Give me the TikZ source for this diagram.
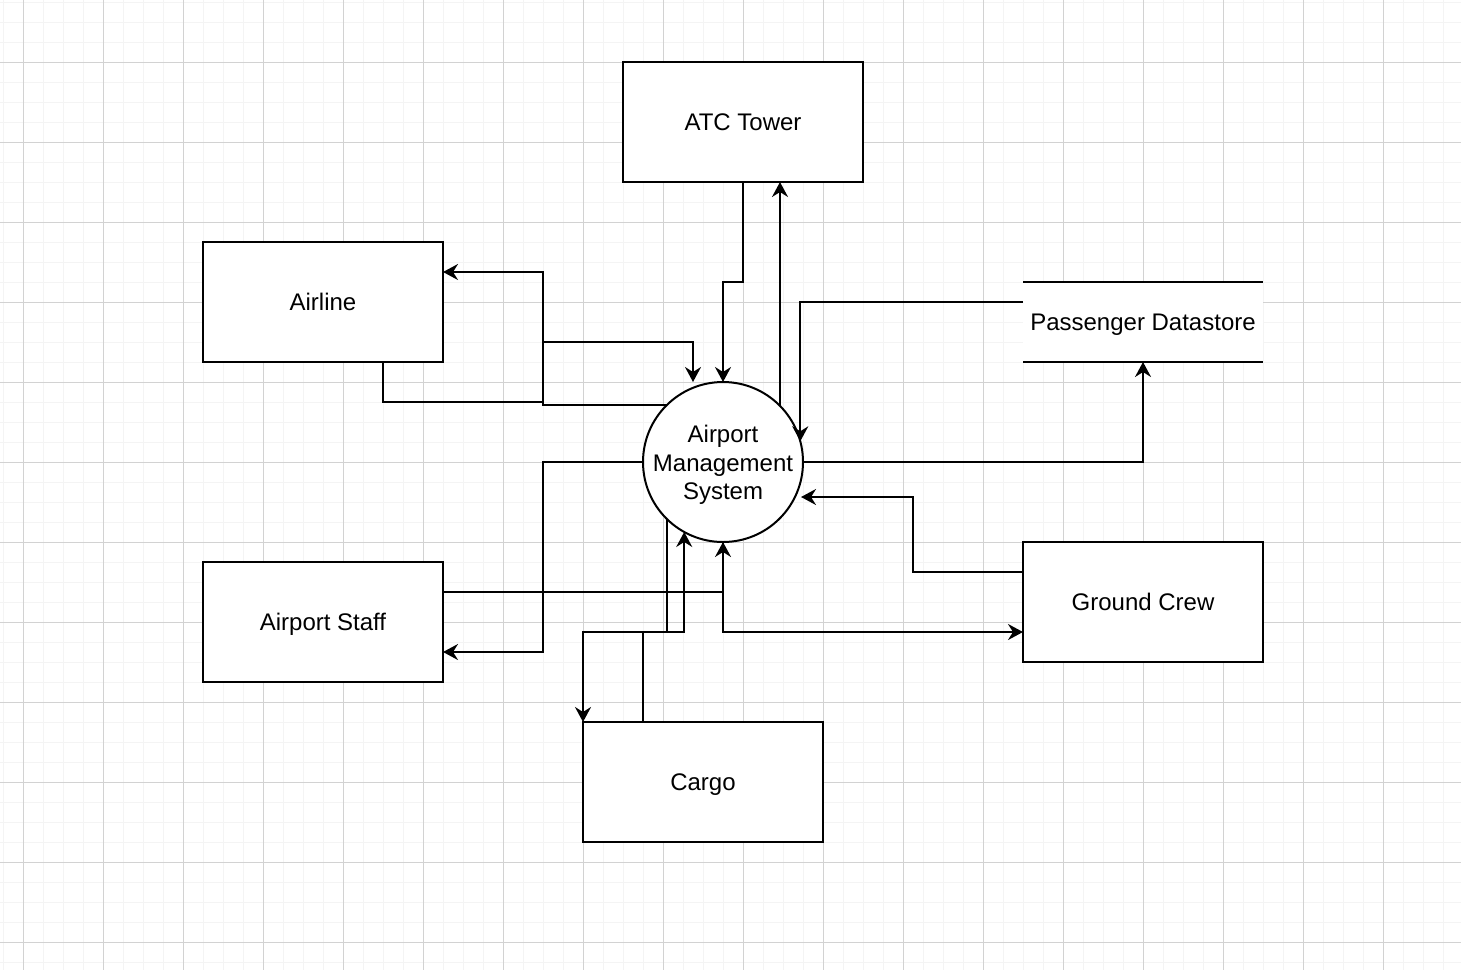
\documentclass[tikz,border=0pt]{standalone}
\usepackage{fontspec}
\setmainfont{Liberation Sans}
\usepackage{xcolor}
\usetikzlibrary{arrows.meta}
\usetikzlibrary{positioning}
\definecolor{gridminor}{RGB}{244,244,244}
\definecolor{gridmajor}{RGB}{210,210,210}

\begin{document}
\begin{tikzpicture}[x=1pt, y=-1pt,
		entity/.style={draw, fill=white, line width=2pt, outer sep=0pt, minimum width=240pt, minimum height=120pt, inner sep=0pt, text depth=0pt},
		process/.style={draw, fill=white, circle, line width=2pt, outer sep=0pt, minimum size=160pt, inner sep=0pt},
		flow/.style={line width=2pt, -{Stealth[length=15pt, width=16pt, inset=5pt]}},
		font=\fontsize{24}{28.5}\selectfont]
	\useasboundingbox (0,0) rectangle (1461,970);
	% draw grid
	\fill[white] (0,0) rectangle (1461,970);
	\foreach \x in {3,23,...,1463} \draw[gridminor, line width=1pt] (\x,0) -- (\x,970);
	\foreach \y in {2,22,...,970} \draw[gridminor, line width=1pt] (0,\y) -- (1461,\y);
	\foreach \x in {23,103,...,1463} \draw[gridmajor, line width=1pt] (\x,0) -- (\x,970);
	\foreach \y in {62,142,...,970} \draw[gridmajor, line width=1pt] (0,\y) -- (1461,\y);
	
	% draw nodes
	\node[process] (ams) at (723,462) {};
	\node[align=center, inner sep=0pt] (amstext) at ([yshift=-3pt]ams.center) {Airport\\Management\\System};
	\node[entity] (atc) at (743,122) {ATC Tower};
	\node[entity] (airline) at (323,302) {Airline};
	\node[entity] (staff) at (323,622) {Airport Staff};
	\node[entity] (cargo) at (703,782) {Cargo};
	\node[entity] (crew) at (1143,602) {Ground Crew};
	\node[minimum width=240pt, minimum height=80pt, inner sep=0pt, outer sep=0pt, text depth=0pt, fill=white] (store) at (1143,322) {Passenger Datastore};
	\draw[line width=2pt] (store.north west) -- (store.north east);
	\draw[line width=2pt] (store.south west) -- (store.south east);
	
	% points on the circle
	\coordinate (toatc) at ([xshift=57pt]ams.north |- ams.north east);
	\coordinate (toairline) at ([xshift=-57pt]ams.north |- ams.north west);
	\coordinate (tocargo) at ([xshift=-56pt]ams.south |- ams.south west);
	\coordinate (fromcrew) at ([xshift=78pt,yshift=-35pt]ams.center);
	
	% draw flows
	\draw[flow] (atc.south) -- ++(0,100) -| (ams.north);
	\draw[flow] (toatc) -- (toatc |- atc.south);
	\draw[flow] ([yshift=20pt]store.west) -| (ams.15);
	\draw[flow] (ams.east) -| (store.south);
	\draw[flow] ([yshift=30pt]crew.west) -- ++(-110,0) |- (fromcrew);
	\draw[flow] (ams.south) |- ([yshift=-30pt]crew.west);
	\draw[flow] ([yshift=30pt]staff.east) -| (ams.south);
	\draw[flow] (ams.west) -- ++(-100,0) |- ([yshift=-30pt]staff.east);
	\draw[flow] (toairline) -| ([xshift=100pt, yshift=30pt]airline.east) -- ([yshift=30pt]airline.east);
	\draw[flow] ([xshift=60pt]airline.south) -- ++(0,40) -- ++(160,0) -- ++(0,-60) -| ([xshift=-30pt]ams.north);
	\draw[flow] (tocargo) -- ++(0,113.4) -| (cargo.north west);
	\draw[flow] ([xshift=-60pt]cargo.north) -- ++(0,-90) -| (ams.241);
\end{tikzpicture}
\end{document}
